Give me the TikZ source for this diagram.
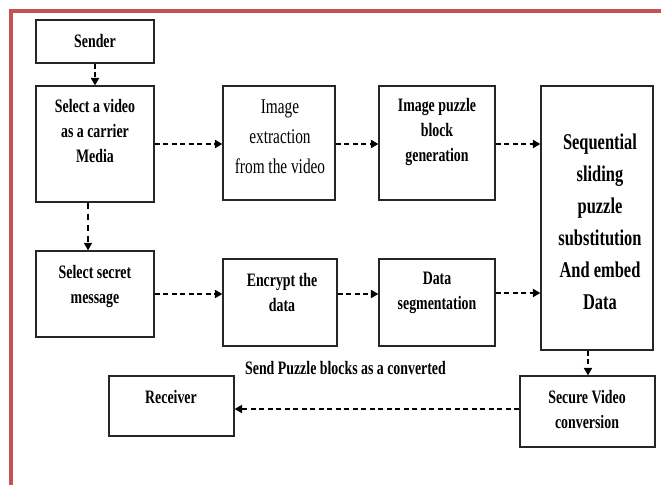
\documentclass[tikz,border=0pt]{standalone}
\usepackage{fontspec}
\setmainfont{Liberation Serif}[FakeStretch=0.73]
\usetikzlibrary{arrows.meta}
\definecolor{frame}{RGB}{196,82,80}
\tikzset{
  box/.style={draw=black!85,line width=1.2pt,rectangle,inner sep=0pt},
  lbl/.style={align=center,inner sep=0pt,font=\fontsize{19}{25}\selectfont\bfseries},
  lblr/.style={align=center,inner sep=0pt,font=\fontsize{21}{30}\selectfont},
  lblbig/.style={align=center,inner sep=0pt,font=\fontsize{22.5}{32}\selectfont\bfseries},
  flow/.style={line width=2pt,dash pattern=on 5pt off 3.5pt,-{Triangle[length=7.5pt,width=8pt]}},
  flowthin/.style={line width=1.5pt,dash pattern=on 6pt off 5pt,-{Triangle[length=7.5pt,width=8pt]}},
}
\begin{document}
\begin{tikzpicture}[x=1pt,y=-1pt]
\useasboundingbox (0,0) rectangle (661,485);
\fill[white] (0,0) rectangle (661,485);
% partial red frame
\draw[frame,line width=3.5pt] (11,485) -- (11,11) -- (661,11);
% boxes
\node[box,minimum width=118pt,minimum height=43pt] (sender) at (95,41.5) {};
\node[box,minimum width=118pt,minimum height=116pt] (video) at (95,144) {};
\node[box,minimum width=112pt,minimum height=114pt] (imgx) at (279,143) {};
\node[box,minimum width=116pt,minimum height=114pt] (puzzle) at (437,143) {};
\node[box,minimum width=112pt,minimum height=264pt] (seq) at (597,218) {};
\node[box,minimum width=118pt,minimum height=86pt] (secret) at (95,294) {};
\node[box,minimum width=114pt,minimum height=87pt] (encrypt) at (280,302.5) {};
\node[box,minimum width=116pt,minimum height=87pt] (dataseg) at (437,302.5) {};
\node[box,minimum width=135pt,minimum height=71pt] (secure) at (587.5,411.5) {};
\node[box,minimum width=125pt,minimum height=60pt] (receiver) at (171.5,406) {};
% texts
\node[lbl] (tsender) at (95,41) {Sender};
\node[lbl] (tvideo) at (95,131) {Select a video\\as a carrier\\Media};
\node[lblr] (timgx) at (280,137) {Image\\extraction\\from the video};
\node[lbl] (tpuzzle) at (437,132) {Image puzzle\\block\\generation};
\node[lblbig] (tseq) at (600,221.5) {Sequential\\sliding\\puzzle\\substitution\\And embed\\Data};
\node[lbl] (tsecret) at (95,286) {Select secret\\message};
\node[lbl] (tencrypt) at (282,292.5) {Encrypt the\\data};
\node[lbl] (tdataseg) at (437,292.5) {Data\\segmentation};
\node[lbl] (tsecure) at (587,409.5) {Secure Video\\conversion};
\node[lbl] (treceiver) at (171,397) {Receiver};
\node[lbl] (tsend) at (345.5,368) {Send Puzzle blocks as a converted};
% connectors
\draw[flow] (sender.south) -- (video.north);
\draw[flow] (video.east) -- (video.east -| imgx.west);
\draw[flow] (imgx.east |- video.east) -- (puzzle.west |- video.east);
\draw[flow] (puzzle.east |- video.east) -- (seq.west |- video.east);
\draw[flowthin] ([xshift=-7pt]video.south) -- ([xshift=-7pt]video.south |- secret.north);
\draw[flow] (secret.east) -- (secret.east -| encrypt.west);
\draw[flow] (encrypt.east |- secret.east) -- (dataseg.west |- secret.east);
\draw[flow] ([yshift=1pt]dataseg.east |- secret.east) -- ([yshift=1pt]seq.west |- secret.east);
\draw[flow] ([xshift=-9pt]seq.south) -- ([xshift=-9pt]seq.south |- secure.north);
\draw[flow] ([yshift=2.5pt]secure.west) -- ([yshift=2.5pt]secure.west -| receiver.east);
\end{tikzpicture}
\end{document}
